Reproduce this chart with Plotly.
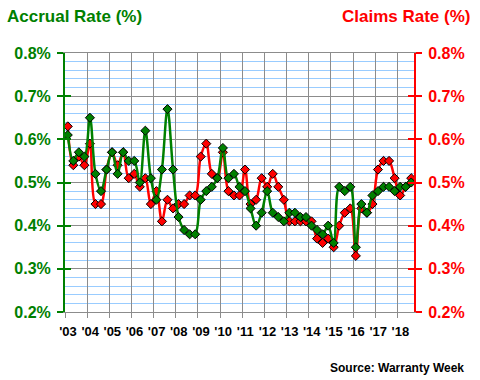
import plotly.graph_objects as go

# Quarterly data, 2003 Q1 .. 2018 Q3
quarters = list(range(63))
accrual_rate = [0.61, 0.55, 0.57, 0.56, 0.65, 0.52, 0.48, 0.53, 0.57, 0.52, 0.57,
                0.55, 0.55, 0.50, 0.62, 0.51, 0.46, 0.53, 0.67, 0.53, 0.42, 0.39,
                0.38, 0.38, 0.46, 0.48, 0.49, 0.51, 0.58, 0.51, 0.52, 0.49, 0.48,
                0.44, 0.40, 0.43, 0.48, 0.43, 0.42, 0.41, 0.43, 0.43, 0.42, 0.42,
                0.40, 0.39, 0.38, 0.40, 0.36, 0.49, 0.48, 0.49, 0.35, 0.45, 0.43,
                0.47, 0.48, 0.49, 0.49, 0.48, 0.49, 0.49, 0.50]
claims_rate = [0.63, 0.54, 0.56, 0.54, 0.59, 0.45, 0.45, 0.53, 0.57, 0.54, 0.57,
               0.51, 0.52, 0.49, 0.51, 0.45, 0.48, 0.41, 0.46, 0.44, 0.45, 0.45,
               0.47, 0.47, 0.56, 0.59, 0.52, 0.51, 0.57, 0.48, 0.47, 0.47, 0.53,
               0.45, 0.46, 0.51, 0.49, 0.52, 0.49, 0.46, 0.41, 0.41, 0.41, 0.41,
               0.41, 0.37, 0.36, 0.37, 0.35, 0.40, 0.43, 0.44, 0.33, 0.44, 0.43,
               0.45, 0.53, 0.55, 0.55, 0.51, 0.47, 0.49, 0.51]
year_labels = ["'03", "'04", "'05", "'06", "'07", "'08", "'09", "'10", "'11",
               "'12", "'13", "'14", "'15", "'16", "'17", "'18"]
year_boundaries = [4 * k - 0.5 for k in range(len(year_labels))]
y_ticks = [0.2, 0.3, 0.4, 0.5, 0.6, 0.7, 0.8]
y_ticktext = [f"{v:.1f}%" for v in y_ticks]

GREEN = "#008000"
RED = "#FF0000"
FONT = "Arial, Liberation Sans, sans-serif"
YR = [0.2, 0.8]

fig = go.Figure()
fig.add_trace(go.Scatter(
    x=quarters, y=claims_rate, mode="lines+markers", name="Claims Rate",
    line=dict(color=RED, width=2.5, shape="spline", smoothing=1),
    marker=dict(symbol="diamond", size=7, color=RED, line=dict(color="black", width=1)),
    yaxis="y", showlegend=False))
fig.add_trace(go.Scatter(
    x=quarters, y=accrual_rate, mode="lines+markers", name="Accrual Rate",
    line=dict(color=GREEN, width=2.5, shape="spline", smoothing=1),
    marker=dict(symbol="diamond", size=7, color=GREEN, line=dict(color="black", width=1)),
    yaxis="y", showlegend=False))
# invisible helper traces so that the overlay axes are drawn
for ax in ["y2", "y3", "y4"]:
    fig.add_trace(go.Scatter(x=quarters, y=claims_rate, mode="lines", yaxis=ax,
                             line=dict(width=0), opacity=0, hoverinfo="skip",
                             showlegend=False))

fig.update_layout(
    width=480, height=380,
    margin=dict(l=65, r=65.5, t=52.7, b=68.3, autoexpand=False),
    paper_bgcolor="white", plot_bgcolor="white",
    font=dict(family=FONT),
    xaxis=dict(
        range=[-0.5, 62.5], tickmode="array", tickvals=year_boundaries,
        ticktext=year_labels, ticklabelshift=3, ticklabelstandoff=2,
        tickfont=dict(size=13, color="black", family=FONT, weight="bold"),
        showgrid=True, gridcolor="#8c8c8c", gridwidth=1,
        showline=True, linecolor="#8c8c8c", linewidth=1, mirror=True,
        ticks="outside", ticklen=5, tickcolor="#8c8c8c", zeroline=False,
        automargin=False,
    ),
    yaxis=dict(
        range=YR, tickmode="array", tickvals=y_ticks, ticktext=y_ticktext,
        tickfont=dict(size=16, color=GREEN, family=FONT, weight="bold"),
        showgrid=True, gridcolor="#8c8c8c", gridwidth=1,
        minor=dict(dtick=0.02, tick0=0.2, showgrid=True, gridcolor="#99ccff", gridwidth=1, ticks=""),
        showline=True, linecolor=GREEN, linewidth=2,
        ticks="outside", ticklen=6, tickcolor=GREEN, tickwidth=2,
        ticklabelstandoff=3, zeroline=False, automargin=False,
    ),
    yaxis2=dict(
        range=YR, overlaying="y", side="right", tickmode="array",
        tickvals=y_ticks, ticktext=y_ticktext,
        tickfont=dict(size=16, color=RED, family=FONT, weight="bold"),
        showgrid=False, showline=True, linecolor=RED, linewidth=2,
        ticks="outside", ticklen=6, tickcolor=RED, tickwidth=2,
        ticklabelstandoff=3, zeroline=False, automargin=False,
    ),
    yaxis3=dict(
        range=YR, overlaying="y", side="left", tickmode="array", tickvals=y_ticks,
        showticklabels=False, showgrid=False, showline=False,
        ticks="inside", ticklen=6, tickcolor=GREEN, tickwidth=2, zeroline=False,
        automargin=False,
    ),
    yaxis4=dict(
        range=YR, overlaying="y", side="right", tickmode="array", tickvals=y_ticks,
        showticklabels=False, showgrid=False, showline=False,
        ticks="inside", ticklen=6, tickcolor=RED, tickwidth=2, zeroline=False,
        automargin=False,
    ),
    annotations=[
        dict(text="<b>Accrual Rate (%)</b>", xref="paper", yref="paper",
             x=-60 / 349.5, y=1 + (52.7 - 16) / 259, xanchor="left", yanchor="middle",
             showarrow=False, font=dict(size=17, color=GREEN, family=FONT)),
        dict(text="<b>Claims Rate (%)</b>", xref="paper", yref="paper",
             x=1 + (473 - 414.5) / 349.5, y=1 + (52.7 - 16) / 259, xanchor="right",
             yanchor="middle", showarrow=False, font=dict(size=17, color=RED, family=FONT)),
        dict(text="<b>Source: Warranty Week</b>", xref="paper", yref="paper",
             x=1 + (467 - 414.5) / 349.5, y=-(367.7 - 311.7) / 259, xanchor="right",
             yanchor="middle", showarrow=False, font=dict(size=12, color="black", family=FONT)),
    ],
)

fig.write_html("out.html", config={"displayModeBar": False},
               post_script="document.body.style.margin='0px';document.body.style.padding='0px';")
